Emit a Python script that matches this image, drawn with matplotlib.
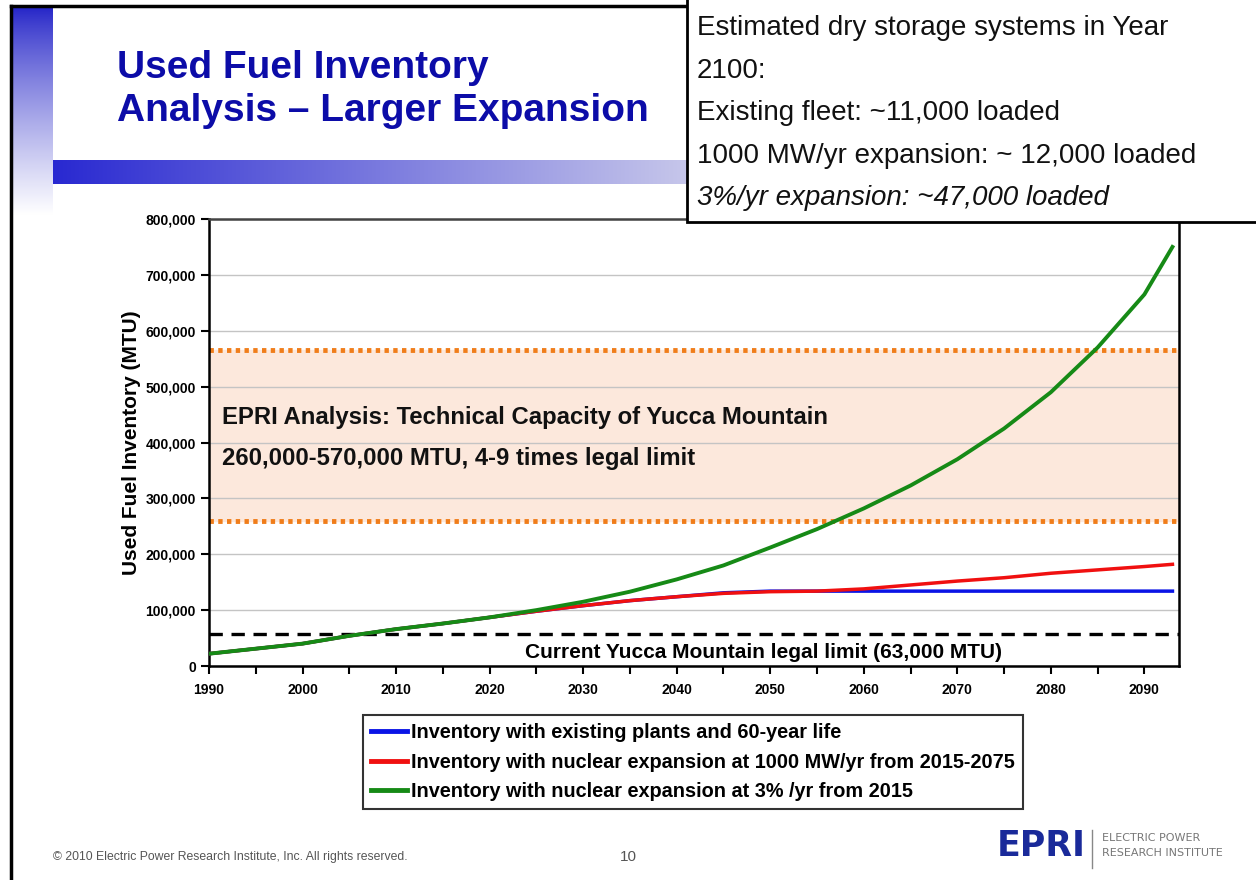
import numpy as np
import matplotlib
matplotlib.use('Agg')
from matplotlib import pyplot as plt
from matplotlib import font_manager
from matplotlib.lines import Line2D
from matplotlib.patches import Rectangle
from matplotlib.ticker import MultipleLocator, FuncFormatter

#------------------------------------------------------------
# data (MTU)
years = [1990, 1995, 2000, 2005, 2010, 2015, 2020, 2025, 2030, 2035, 2040,
         2045, 2050, 2055, 2060, 2065, 2070, 2075, 2080, 2085, 2090, 2093]
existing = [22000, 31000, 40000, 54000, 66000, 76000, 87000, 98000, 108000,
            117000, 124000, 131000, 134000, 134000, 134000, 134000, 134000,
            134000, 134000, 134000, 134000, 134000]
expand_1000 = [22000, 31000, 40000, 54000, 66000, 76000, 87000, 98000,
               108000, 117000, 124000, 130000, 133000, 134000, 138000, 145000,
               152000, 158000, 166000, 172000, 178000, 182000]
expand_3pct = [22000, 31000, 40000, 54000, 66000, 76000, 87000, 100000,
               115000, 133000, 155000, 180000, 212000, 245000, 282000, 323000,
               370000, 425000, 490000, 570000, 665000, 750000]
legal_limit = 57000
yucca_low, yucca_high = 260000, 565000

series_labels = ['Inventory with existing plants and 60-year life',
                 'Inventory with nuclear expansion at 1000 MW/yr from 2015-2075',
                 'Inventory with nuclear expansion at 3% /yr from 2015']
series_colors = ['#0a14e6', '#f01010', '#168a16']

box_lines = ['Estimated dry storage systems in Year', '2100:',
             'Existing fleet: ~11,000 loaded',
             '1000 MW/yr expansion: ~ 12,000 loaded',
             '3%/yr expansion: ~47,000 loaded']

#------------------------------------------------------------
names = {f.name for f in font_manager.fontManager.ttflist}
arial = 'Liberation Sans'
narrow = 'Liberation Sans Narrow' if 'Liberation Sans Narrow' in names else arial
plt.rcParams['font.family'] = [arial, 'DejaVu Sans']

W, H = 1256, 880
fig = plt.figure(figsize=(W / 100, H / 100), dpi=100)

# background layer in pixel coordinates
bg = fig.add_axes([0, 0, 1, 1], zorder=0)
bg.set_xlim(0, W)
bg.set_ylim(H, 0)
bg.axis('off')

# vertical gradient strip on the left
vgrad = np.linspace(0, 1, 256).reshape(-1, 1)
top_c = np.array([0.13, 0.13, 0.78])
white = np.array([1.0, 1.0, 1.0])
vimg = top_c + (white - top_c) * vgrad[..., None] ** 0.8
bg.imshow(vimg, extent=(12, 53, 215, 6), aspect='auto', interpolation='bilinear')

# horizontal gradient bar under the title
hgrad = np.linspace(0, 1, 256).reshape(1, -1)
left_c = np.array([0.16, 0.16, 0.82])
right_c = np.array([0.78, 0.78, 0.92])
himg = left_c + (right_c - left_c) * hgrad[..., None]
bg.imshow(himg, extent=(53, 690, 184, 160), aspect='auto', interpolation='bilinear')

# slide frame
bg.plot([11, 11], [6, H], color='black', lw=2.5)
bg.plot([11, 690], [6, 6], color='black', lw=2.5)

bg.text(117, 68, 'Used Fuel Inventory', color='#0c0ca8', fontsize=28,
        fontweight='bold', ha='left', va='center')
bg.text(117, 111, 'Analysis \u2013 Larger Expansion', color='#0c0ca8',
        fontsize=28, fontweight='bold', ha='left', va='center')

# footer
bg.text(53, 857, '\u00a9 2010 Electric Power Research Institute, Inc. All rights reserved.',
        color='#555555', fontsize=8.8, ha='left', va='center')
bg.text(628, 857, '10', color='#555555', fontsize=11, ha='center', va='center')
bg.text(1041, 846, 'EPRI', color='#1a2a9a', fontsize=25, fontweight='heavy',
        ha='center', va='center', family='DejaVu Sans')
bg.plot([1092, 1092], [830, 868], color='#888888', lw=1)
bg.text(1102, 838, 'ELECTRIC POWER', color='#777777', fontsize=8,
        ha='left', va='center', family='DejaVu Sans')
bg.text(1102, 853, 'RESEARCH INSTITUTE', color='#777777', fontsize=8,
        ha='left', va='center', family='DejaVu Sans')

#------------------------------------------------------------
# main chart
ax = fig.add_axes([209 / W, 1 - 666 / H, (1179 - 209) / W, (666 - 219) / H],
                  zorder=1)
ax.set_facecolor('white')

ax.axhspan(yucca_low, yucca_high, color='#fce8dc', zorder=0)
ax.axhline(yucca_high, color='#f07d1a', ls=(0, (0.9, 0.9)), lw=3.5, zorder=2)
ax.axhline(yucca_low, color='#f07d1a', ls=(0, (0.9, 0.9)), lw=3.5, zorder=2)
ax.axhline(legal_limit, color='black', ls=(0, (4, 2.6)), lw=2.4, zorder=2)

ax.plot(years, existing, color=series_colors[0], lw=2.5, zorder=3)
ax.plot(years, expand_1000, color=series_colors[1], lw=2.5, zorder=4)
ax.plot(years, expand_3pct, color=series_colors[2], lw=2.8, zorder=5)

ax.set_xlim(1990, 2093.7)
ax.set_ylim(0, 800000)
ax.yaxis.set_major_locator(MultipleLocator(100000))
ax.yaxis.set_major_formatter(FuncFormatter(lambda v, p: f'{int(v):,}'))
ax.xaxis.set_major_locator(MultipleLocator(10))
ax.xaxis.set_minor_locator(MultipleLocator(5))
ax.xaxis.set_major_formatter(FuncFormatter(lambda v, p: f'{int(v)}'))
ax.grid(axis='y', color='#c4c4c4', lw=1, zorder=1)
ax.set_axisbelow(True)

ax.tick_params(axis='both', which='both', direction='out', length=6,
               width=1.5, color='black', labelsize=10)
ax.tick_params(axis='x', pad=6)
for lab in ax.get_xticklabels() + ax.get_yticklabels():
    lab.set_fontweight('bold')
for sp in ax.spines.values():
    sp.set_linewidth(1.8)
    sp.set_color('black')
ax.spines['top'].set_color('#444444')

ax.set_ylabel('Used Fuel Inventory (MTU)', fontsize=15, fontweight='bold',
              labelpad=3)

ax.text(1991.4, 445000, 'EPRI Analysis: Technical Capacity of Yucca Mountain',
        fontsize=17.2, fontweight='bold', color='#111111', ha='left', va='center')
ax.text(1991.4, 372000, '260,000-570,000 MTU, 4-9 times legal limit',
        fontsize=17.2, fontweight='bold', color='#111111', ha='left', va='center')
ax.text(2049.3, 25000, 'Current Yucca Mountain legal limit (63,000 MTU)',
        fontsize=15, fontweight='bold', ha='center', va='center')

handles = [Line2D([0], [0], color=c, lw=3.5) for c in series_colors]
leg = fig.legend(handles, series_labels, loc='center',
                 bbox_to_anchor=(693 / W, 1 - 762 / H),
                 prop={'family': [narrow, 'DejaVu Sans'], 'weight': 'bold',
                       'size': 17 if narrow != arial else 14.3},
                 frameon=True, fancybox=False, edgecolor='black',
                 handlelength=1.8, handletextpad=0.25, labelspacing=0.55,
                 borderpad=0.4, borderaxespad=0)
leg.get_frame().set_linewidth(1.5)

#------------------------------------------------------------
# text box in the upper right
top = fig.add_axes([0, 0, 1, 1], zorder=3)
top.set_xlim(0, W)
top.set_ylim(H, 0)
top.axis('off')
top.add_patch(Rectangle((687, -5), 600, 227, facecolor='white',
                        edgecolor='black', lw=2))
ys = [28, 71, 113, 156, 198]
for i, (t, y) in enumerate(zip(box_lines, ys)):
    top.text(697, y, t, fontsize=20, ha='left', va='center', color='#111111',
             style='italic' if i == 4 else 'normal')

fig.savefig('out.png', dpi=100)
